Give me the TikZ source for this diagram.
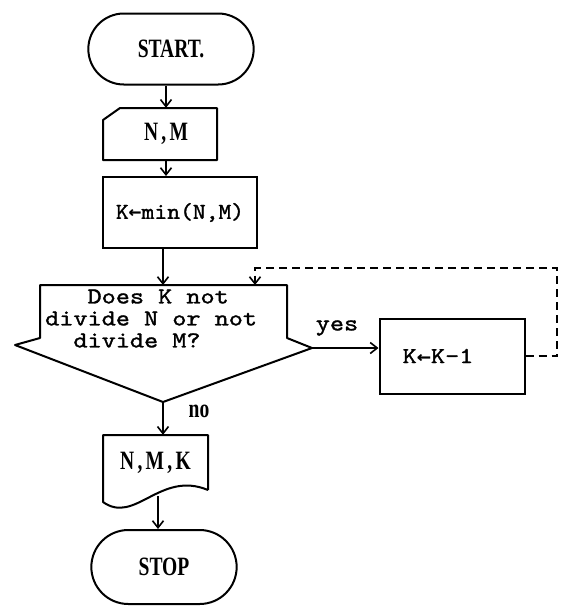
\documentclass[tikz,border=0pt]{standalone}
\usepackage{fontspec}
\setmainfont{Liberation Serif}
\newfontfamily\typef{lmmono10-regular.otf}[AutoFakeBold=1.3]
\newfontfamily\arrf{DejaVu Sans Mono}
\usetikzlibrary{shapes.misc,arrows.meta,calc}
\newcommand\tallser[1]{\scalebox{0.85}[1.15]{#1}}
\newcommand\widemono[1]{\scalebox{1.18}[1]{#1}}
\begin{document}
\begin{tikzpicture}[x=1pt,y=-1pt,
  box/.style={draw=none, inner sep=0pt},
  term/.style={rounded rectangle, draw, line width=2pt, font=\bfseries\fontsize{23}{23}\selectfont},
  rect/.style={rectangle, draw, line width=2pt},
  outline/.style={draw, line width=2pt, line join=round},
  arr/.style={line width=2pt, -{Straight Barb[length=7pt,width=11pt,line width=1.6pt]}},
  fbline/.style={line width=1.6pt, dash pattern=on 8pt off 5pt},
  mono/.style={font=\typef\bfseries\fontsize{22.8}{22}\selectfont},
  serif/.style={font=\bfseries\fontsize{23}{23}\selectfont}]
\useasboundingbox (0,0) rectangle (562,606);
\fill[white] (0,0) rectangle (562,606);

% nodes
\node[term, minimum width=172pt, minimum height=71pt] (start) at (171,49) {\tallser{START.}};
\node[box, serif, minimum width=114pt, minimum height=52pt] (in) at (166,134) {\tallser{N\,,\,M}};
\draw[outline] (120,108) -- (217,108) -- (217,160) -- (103,160) -- (103,120) -- cycle;
\node[rect, mono, minimum width=154pt, minimum height=71pt] (kmin) at (180,212.5) {\scalebox{1.07}[1]{K{\arrf\fontsize{20}{20}\selectfont ←}min(N,M)}};

\coordinate (dtop) at (163,285);
\coordinate (dright) at (312,348);
\coordinate (dbot) at (163,402);
\draw[outline] (40,285) -- (287,285) -- (287,338) -- (dright) -- (dbot) -- (15,345) -- (40,338) -- cycle;
\node[mono, inner sep=0pt, anchor=west] (dec) at (45,321) {\widemono{\begin{tabular}{@{}l@{}}\phantom{Doe}Does K not\\divide N or not\\\phantom{di}divide M?\end{tabular}}};

\node[mono] (yes) at (337,328) {\widemono{yes}};
\node[rect, mono, minimum width=145pt, minimum height=75pt] (kk) at (452,356) {\widemono{K{\arrf\fontsize{20}{20}\selectfont ←}K-1}\kern28pt};
\coordinate (fbr) at (557,268);
\coordinate (fbl) at (255,268);

\node[serif] (no) at (199,411) {\tallser{no}};
\node[box, serif, minimum width=105pt, minimum height=55pt] (out) at (155.5,462.5) {\tallser{N\,,\,M\,,\,K}};
\draw[outline] (208,490) -- (208,435) -- (103,435) -- (103,502) .. controls (135,525) and (160,470) .. (208,490);
\coordinate (outb) at (158,496);
\node[term, minimum width=152pt, minimum height=74pt] (stop) at (164,567) {\tallser{STOP}};

% connectors
\draw[arr] ([xshift=-5pt]start.south) -- ([xshift=-5pt]start.south |- in.north);
\draw[arr] (in.south) -- (in.south |- kmin.north);
\draw[arr] (kmin.south -| dtop) -- (dtop);
\draw[arr] (dright) -- (dright -| kk.west);
\draw[arr, fbline] (kk.east) -| (fbr) -- (fbl) -- (fbl |- dtop);
\draw[arr] (dbot) -- (dbot |- out.north);
\draw[arr] (outb) -- (outb |- stop.north);
\end{tikzpicture}
\end{document}
